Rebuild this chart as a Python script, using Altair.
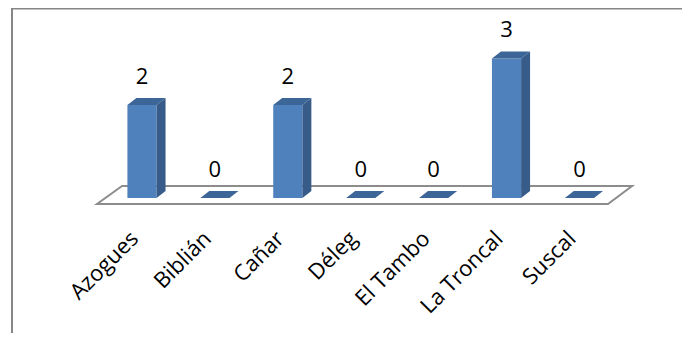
import altair as alt
import pandas as pd

categories = ["Azogues", "Biblián", "Cañar", "Déleg", "El Tambo", "La Troncal", "Suscal"]
values = [2, 0, 2, 0, 0, 3, 0]

# geometry of the pseudo-3D bars (in data units)
HW = 0.2      # half width of the front face
DX = 0.123    # depth offset in x
DY = 0.15     # depth offset in y

FRONT = "#4F81BD"
SIDE = "#385C89"
TOP = "#3D6698"

xs = alt.Scale(domain=[-1.838, 7.407], nice=False, zero=False)
ys = alt.Scale(domain=[-2.903, 4.086], nice=False, zero=False)

front_rows, top_rows, side_rows, lab_rows = [], [], [], []
for i, (c, v) in enumerate(zip(categories, values)):
    if v > 0:
        front_rows.append({"c": c, "xl": i - HW, "xr": i + HW, "y0": 0, "y1": v})
        side_rows.append({"c": c, "x": i + HW, "y": 0, "y2": v})
        side_rows.append({"c": c, "x": i + HW + DX, "y": DY, "y2": v + DY})
    top_rows.append({"c": c, "y": v, "x": i - HW, "x2": i + HW})
    top_rows.append({"c": c, "y": v + DY, "x": i - HW + DX, "x2": i + HW + DX})
    lab_rows.append({"c": c, "i": i, "v": v, "ly": v + 0.61, "ax": i - 0.1, "ay": -0.8})

front = pd.DataFrame(front_rows)
top = pd.DataFrame(top_rows)
side = pd.DataFrame(side_rows)
labs = pd.DataFrame(lab_rows)
floor = pd.DataFrame([
    {"y": -0.129, "x": -0.617, "x2": 6.392},
    {"y": 0.258, "x": -0.274, "x2": 6.722},
])

floor_l = alt.Chart(floor).mark_area(
    orient="horizontal", fill="white", stroke="#8C8C8C", strokeWidth=2
).encode(
    y=alt.Y("y:Q", scale=ys, axis=None),
    x=alt.X("x:Q", scale=xs, axis=None),
    x2="x2:Q",
)

front_l = alt.Chart(front).mark_rect(color=FRONT).encode(
    x=alt.X("xl:Q", scale=xs, axis=None), x2="xr:Q",
    y=alt.Y("y0:Q", scale=ys, axis=None), y2="y1:Q",
)

side_l = alt.Chart(side).mark_area(orient="vertical", color=SIDE).encode(
    x=alt.X("x:Q", scale=xs, axis=None),
    y=alt.Y("y:Q", scale=ys, axis=None), y2="y2:Q",
    detail="c:N",
)

top_l = alt.Chart(top).mark_area(orient="horizontal", color=TOP).encode(
    y=alt.Y("y:Q", scale=ys, axis=None),
    x=alt.X("x:Q", scale=xs, axis=None), x2="x2:Q",
    detail="c:N",
)

vals_l = alt.Chart(labs).mark_text(
    font="Open Sans", fontSize=22, color="black", align="center", baseline="middle"
).encode(
    x=alt.X("i:Q", scale=xs, axis=None),
    y=alt.Y("ly:Q", scale=ys, axis=None),
    text="v:Q",
)

cat_l = alt.Chart(labs).mark_text(
    font="Open Sans", fontSize=22, color="black", align="right", baseline="middle", angle=315
).encode(
    x=alt.X("ax:Q", scale=xs, axis=None),
    y=alt.Y("ay:Q", scale=ys, axis=None),
    text="c:N",
)

one = alt.Data(values=[{}])
frame_top = alt.Chart(one).mark_rule(color="#868686", strokeWidth=2).encode(
    x=alt.value(4), x2=alt.value(674), y=alt.value(0.5)
)
frame_left = alt.Chart(one).mark_rule(color="#868686", strokeWidth=2).encode(
    x=alt.value(4), y=alt.value(0), y2=alt.value(325)
)

chart = alt.layer(
    frame_top, frame_left, floor_l, front_l, side_l, top_l, vals_l, cat_l
).properties(
    width=674, height=325,
    autosize=alt.AutoSizeParams(type="none"),
    padding=0,
).configure_view(stroke=None)

chart.save("out.html", embed_options={"renderer": "svg", "actions": False})
